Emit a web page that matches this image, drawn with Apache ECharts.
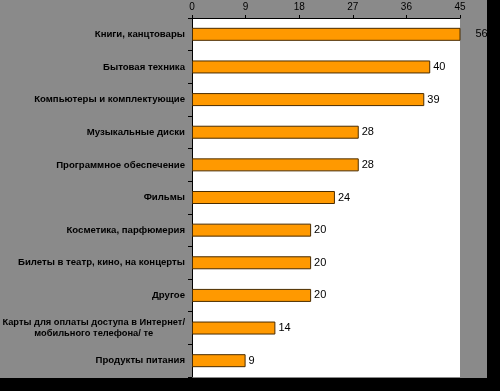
<!DOCTYPE html>
<html>
<head>
<meta charset="utf-8">
<script src="https://cdn.jsdelivr.net/npm/echarts@6/dist/echarts.min.js"></script>
<style>
html,body{margin:0;padding:0;background:#000;}
#c{width:487px;height:378px;background:#8a8a8a;}
</style>
</head>
<body>
<div id="c"></div>
<script>
var categories = [
  "Книги, канцтовары",
  "Бытовая техника",
  "Компьютеры и комплектующие",
  "Музыкальные диски",
  "Программное обеспечение",
  "Фильмы",
  "Косметика, парфюмерия",
  "Билеты в театр, кино, на концерты",
  "Другое",
  "Карты для оплаты доступа в Интернет/\nмобильного телефона/ те",
  "Продукты питания"
];
var values = [56, 40, 39, 28, 28, 24, 20, 20, 20, 14, 9];
var axisMax = 45;
var axisStep = 9;

var chart = echarts.init(document.getElementById('c'), null, {renderer: 'canvas'});
var data = values.map(function (v) {
  var item = {value: v};
  if (v > axisMax) {
    item.label = {offset: [12, 0]};
  }
  return item;
});
chart.setOption({
  backgroundColor: 'transparent',
  animation: false,
  grid: {left: 192, top: 18, width: 268, height: 359, containLabel: false,
         outerBoundsMode: 'none',
         show: true, backgroundColor: '#ffffff', borderWidth: 0},
  xAxis: {
    type: 'value', position: 'top', min: 0, max: axisMax, interval: axisStep,
    axisLine: {show: true, lineStyle: {color: '#000', width: 1}},
    axisTick: {show: true, inside: false, length: 3, lineStyle: {color: '#000'}},
    axisLabel: {color: '#000', fontSize: 10, fontFamily: 'Liberation Sans, Arial', margin: 6},
    splitLine: {show: false}
  },
  yAxis: {
    type: 'category', data: categories, inverse: true,
    axisLine: {show: true, lineStyle: {color: '#000', width: 1}},
    axisTick: {show: true, length: 4, lineStyle: {color: '#000'}},
    axisLabel: {
      color: '#000', fontSize: 9.6, fontWeight: 'bold', fontFamily: 'Liberation Sans, Arial',
      margin: 7,
      formatter: function (val) {
        if (val.indexOf('\n') >= 0) {
          return val.split('\n').map(function (s) { return '{c|' + s + '}'; }).join('\n');
        }
        return val;
      },
      rich: {c: {align: 'center', fontSize: 9.3, fontWeight: 'bold',
                 fontFamily: 'Liberation Sans, Arial', color: '#000', lineHeight: 11}}
    }
  },
  series: [{
    type: 'bar', data: data, barWidth: 13, clip: true,
    itemStyle: {color: '#ff9900', borderColor: '#4a2c00', borderWidth: 1},
    label: {show: true, position: 'right', distance: 3, color: '#000', fontSize: 11,
            fontFamily: 'Liberation Sans, Arial'}
  }]
});
</script>
</body>
</html>
